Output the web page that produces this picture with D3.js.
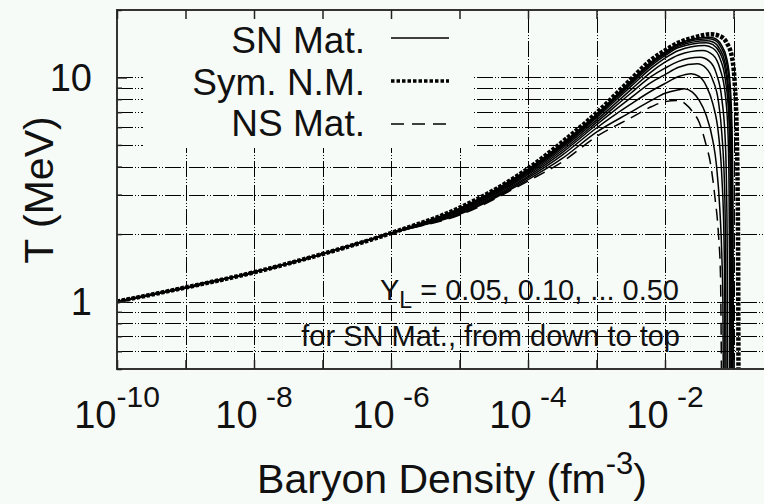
<!DOCTYPE html>
<html>
<head>
<meta charset="utf-8">
<script src="https://cdn.jsdelivr.net/npm/d3@7"></script>
<style>
  html, body { margin: 0; padding: 0; background: #f7fbf8; }
  svg { display: block; font-family: "Liberation Sans", Arial, Helvetica, sans-serif; }
  text { fill: #111; white-space: pre; }
</style>
</head>
<body>
<svg id="chart" width="764" height="504"></svg>
<script>
// ---- data: temperature T (MeV) versus baryon density n (fm^-3) ----

// density grid shared by the rising branch of every curve
const densityGrid = [1e-10, 1e-9, 1e-8, 1e-7, 1e-6, 1e-5, 1e-4, 3.16e-4, 1e-3, 3.16e-3, 6.31e-3, 1e-2, 1.58e-2];

// T on densityGrid
const nsRise   = [1.0, 1.155, 1.35, 1.63, 2.02, 2.43, 3.45, 4.20, 5.45, 6.60, 7.40, 7.80, 7.90];
const symRise  = [1.0, 1.155, 1.35, 1.63, 2.02, 2.62, 3.92, 5.15, 6.95, 9.80, 12.0, 13.2, 14.3];
const snRise = [
  [1.0, 1.155, 1.35, 1.63, 2.02, 2.45, 3.50, 4.35, 5.70, 7.00, 7.90, 8.50, 8.82],   // YL = 0.05
  [1.0, 1.155, 1.35, 1.63, 2.02, 2.47, 3.56, 4.50, 5.95, 7.60, 8.70, 9.40, 10.1],   // 0.10
  [1.0, 1.155, 1.35, 1.63, 2.02, 2.50, 3.62, 4.62, 6.15, 8.10, 9.50, 10.3, 11.1],   // 0.15
  [1.0, 1.155, 1.35, 1.63, 2.02, 2.52, 3.68, 4.72, 6.30, 8.50, 10.1, 11.0, 11.8],   // 0.20
  [1.0, 1.155, 1.35, 1.63, 2.02, 2.54, 3.73, 4.82, 6.45, 8.80, 10.6, 11.7, 12.6],   // 0.25
  [1.0, 1.155, 1.35, 1.63, 2.02, 2.56, 3.78, 4.90, 6.60, 9.10, 11.0, 12.2, 13.2],   // 0.30
  [1.0, 1.155, 1.35, 1.63, 2.02, 2.57, 3.82, 4.96, 6.70, 9.30, 11.3, 12.5, 13.6],   // 0.35
  [1.0, 1.155, 1.35, 1.63, 2.02, 2.58, 3.85, 5.00, 6.75, 9.45, 11.5, 12.7, 13.8],   // 0.40
  [1.0, 1.155, 1.35, 1.63, 2.02, 2.59, 3.87, 5.04, 6.80, 9.55, 11.6, 12.85, 14.0],  // 0.45
  [1.0, 1.155, 1.35, 1.63, 2.02, 2.60, 3.90, 5.08, 6.85, 9.65, 11.75, 13.0, 14.15]  // 0.50
];

// high-density tails [n, T]: peak and collapse of the curve
const nsTail  = [[0.0200, 7.6], [0.0251, 7.05], [0.0316, 6.3], [0.0398, 5.0], [0.0457, 4.2], [0.0537, 2.9], [0.0603, 2.0], [0.0646, 1.3], [0.0658, 0.8], [0.0668, 0.45]];
const symTail = [[0.0251, 15.0], [0.0468, 15.6], [0.0631, 15.3], [0.0794, 14.3], [0.0955, 12.2], [0.1047, 9.2], [0.1109, 6.0], [0.1148, 3.2], [0.1169, 1.5], [0.1183, 0.45]];
const snTail = [
  [[0.0191, 8.9], [0.0251, 8.6], [0.0316, 7.9], [0.0398, 6.8], [0.0501, 5.2], [0.0562, 4.1], [0.0631, 2.6], [0.0676, 1.6], [0.0700, 1.0], [0.0711, 0.45]],
  [[0.0240, 10.4], [0.0316, 10.1], [0.0398, 9.2], [0.0501, 7.6], [0.0603, 5.6], [0.0676, 3.6], [0.0724, 2.0], [0.0741, 1.2], [0.0750, 0.45]],
  [[0.0295, 11.5], [0.0398, 11.0], [0.0501, 9.7], [0.0603, 7.8], [0.0676, 5.6], [0.0741, 3.2], [0.0767, 1.6], [0.0780, 0.45]],
  [[0.0324, 12.3], [0.0447, 11.8], [0.0562, 10.4], [0.0676, 8.0], [0.0759, 5.2], [0.0794, 3.0], [0.0813, 1.4], [0.0822, 0.45]],
  [[0.0355, 13.2], [0.0501, 12.6], [0.0631, 11.0], [0.0759, 8.4], [0.0832, 5.6], [0.0861, 3.2], [0.0875, 1.4], [0.0881, 0.45]],
  [[0.0380, 13.9], [0.0501, 13.5], [0.0631, 12.2], [0.0759, 9.8], [0.0851, 6.8], [0.0891, 4.0], [0.0908, 2.0], [0.0916, 0.45]],
  [[0.0398, 14.3], [0.0501, 14.0], [0.0631, 12.9], [0.0759, 10.8], [0.0851, 7.8], [0.0902, 4.8], [0.0927, 2.2], [0.0938, 0.45]],
  [[0.0407, 14.6], [0.0501, 14.4], [0.0631, 13.4], [0.0759, 11.5], [0.0851, 8.6], [0.0912, 5.2], [0.0940, 2.4], [0.0955, 0.45]],
  [[0.0427, 14.9], [0.0525, 14.7], [0.0661, 13.6], [0.0794, 11.6], [0.0891, 8.5], [0.0944, 5.0], [0.0968, 2.3], [0.0982, 0.45]],
  [[0.0437, 15.1], [0.0525, 14.95], [0.0661, 14.0], [0.0794, 12.2], [0.0891, 9.4], [0.0955, 5.6], [0.0982, 2.5], [0.1000, 0.45]]
];

// axis ticks and labels
const xDecades = [1e-10, 1e-9, 1e-8, 1e-7, 1e-6, 1e-5, 1e-4, 1e-3, 1e-2, 1e-1];
const xLabelTicks = [1e-10, 1e-8, 1e-6, 1e-4, 1e-2];
const xLabelExps = ["-10", " -8", " -6", " -4", " -2"];
const yMinor = [0.5, 0.6, 0.7, 0.8, 0.9, 2, 3, 4, 5, 6, 7, 8, 9, 20];
const yMajor = [1, 10];
const yLabels = ["1", "10"];
const legendNames = ["SN Mat.", "Sym. N.M.", "NS Mat."];

// ---- layout ----
const W = 764, H = 504;
const L = 117, R = 802, T = 10, B = 369;
const x = d3.scaleLog().domain([1e-10, 1]).range([L, R]);
const y = d3.scaleLog().domain([0.5, 20]).range([B, T]);
const gridDash = "16,2,1,2,1,2";

const svg = d3.select("#chart");
svg.append("rect").attr("width", W).attr("height", H).attr("fill", "#f7fbf8");

svg.append("defs").append("clipPath").attr("id", "plotArea")
  .append("rect").attr("x", L).attr("y", T).attr("width", R - L).attr("height", B - T);

// grid: every y tick, every x decade
const gridY = svg.append("g").attr("transform", `translate(${L},0)`)
  .call(d3.axisLeft(y).tickValues(yMinor.concat(yMajor).filter(v => v > 0.5 && v < 20))
    .tickSize(-(R - L)).tickFormat(""));
const gridX = svg.append("g").attr("transform", `translate(0,${B})`)
  .call(d3.axisBottom(x).tickValues(xDecades.slice(1)).tickSize(-(B - T)).tickFormat(""));
[gridX, gridY].forEach(g => {
  g.select(".domain").remove();
  g.selectAll("line").attr("stroke", "#000").attr("stroke-width", 1)
    .attr("shape-rendering", "crispEdges")
    .attr("stroke-dasharray", gridDash);
});

// opaque key area
svg.append("rect").attr("x", 143).attr("y", T).attr("width", 329).attr("height", 138)
  .attr("fill", "#f7fbf8");

// ---- curves ----
const line = d3.line().x(d => x(d[0])).y(d => y(d[1])).curve(d3.curveMonotoneX);
const plot = svg.append("g").attr("clip-path", "url(#plotArea)");
const build = (rise, tail) => densityGrid.map((n, i) => [n, rise[i]]).concat(tail);

snRise.forEach((rise, k) => {
  plot.append("path").attr("d", line(build(rise, snTail[k])))
    .attr("fill", "none").attr("stroke", "#000").attr("stroke-width", 1.5);
});
plot.append("path").attr("d", line(build(nsRise, nsTail)))
  .attr("fill", "none").attr("stroke", "#000").attr("stroke-width", 1.5)
  .attr("stroke-dasharray", "12,7");
plot.append("path").attr("d", line(build(symRise, symTail)))
  .attr("fill", "none").attr("stroke", "#000").attr("stroke-width", 4.5)
  .attr("stroke-dasharray", "3.5,1.5");

// ---- border and ticks ----
svg.append("rect").attr("x", L).attr("y", T).attr("width", R - L).attr("height", B - T)
  .attr("fill", "none").attr("stroke", "#333").attr("stroke-width", 2);

const tickGroups = [];
tickGroups.push(svg.append("g").attr("transform", `translate(${L},0)`)
  .call(d3.axisLeft(y).tickValues(yMajor).tickSize(-10).tickFormat("")));
tickGroups.push(svg.append("g").attr("transform", `translate(${L},0)`)
  .call(d3.axisLeft(y).tickValues(yMinor).tickSize(-5).tickFormat("")));
tickGroups.push(svg.append("g").attr("transform", `translate(0,${B})`)
  .call(d3.axisBottom(x).tickValues(xDecades).tickSize(-9).tickFormat("")));
tickGroups.push(svg.append("g").attr("transform", `translate(0,${T})`)
  .call(d3.axisTop(x).tickValues(xDecades).tickSize(-9).tickFormat("")));
tickGroups.forEach(g => {
  g.select(".domain").remove();
  g.selectAll("line").attr("stroke", "#222").attr("stroke-width", 1.5);
});

// ---- tick labels ----
yMajor.forEach((v, i) => {
  svg.append("text").attr("x", 92).attr("y", y(v) + 13.5)
    .attr("text-anchor", "end").attr("font-size", 38).text(yLabels[i]);
});
xLabelTicks.forEach((v, i) => {
  const t = svg.append("text").attr("x", x(v)).attr("y", 428)
    .attr("text-anchor", "middle").attr("font-size", 38);
  t.append("tspan").text("10");
  t.append("tspan").attr("dy", -21).attr("font-size", 30).text(xLabelExps[i]);
});

// ---- axis titles ----
const xt = svg.append("text").attr("x", 452).attr("y", 493)
  .attr("text-anchor", "middle").attr("font-size", 41);
xt.append("tspan").text("Baryon Density (fm");
xt.append("tspan").attr("dy", -19).attr("font-size", 31).text("-3");
xt.append("tspan").attr("dy", 19).text(")");

svg.append("text").attr("transform", "translate(53,190) rotate(-90)")
  .attr("text-anchor", "middle").attr("font-size", 41).text("T (MeV)");

// ---- key ----
const keyBase = [53, 94.5, 136];
const keyLineY = [38, 81, 124];
legendNames.forEach((name, i) => {
  svg.append("text").attr("x", 365).attr("y", keyBase[i])
    .attr("text-anchor", "end").attr("font-size", 37).text(name);
});
svg.append("line").attr("x1", 391).attr("x2", 449).attr("y1", keyLineY[0]).attr("y2", keyLineY[0])
  .attr("stroke", "#000").attr("stroke-width", 1.5);
svg.append("line").attr("x1", 391).attr("x2", 449).attr("y1", keyLineY[1]).attr("y2", keyLineY[1])
  .attr("stroke", "#000").attr("stroke-width", 3.5).attr("stroke-dasharray", "3.5,2");
svg.append("line").attr("x1", 391).attr("x2", 449).attr("y1", keyLineY[2]).attr("y2", keyLineY[2])
  .attr("stroke", "#000").attr("stroke-width", 1.5).attr("stroke-dasharray", "13,8");

// ---- annotation ----
const a1 = svg.append("text").attr("x", 679).attr("y", 300)
  .attr("text-anchor", "end").attr("font-size", 29);
a1.append("tspan").text("Y");
a1.append("tspan").attr("dy", 8).attr("font-size", 23).text("L");
a1.append("tspan").attr("dy", -8).text(" = 0.05, 0.10, ... 0.50");
svg.append("text").attr("x", 680).attr("y", 346)
  .attr("text-anchor", "end").attr("font-size", 29).text("for SN Mat., from down to top");
</script>
</body>
</html>
